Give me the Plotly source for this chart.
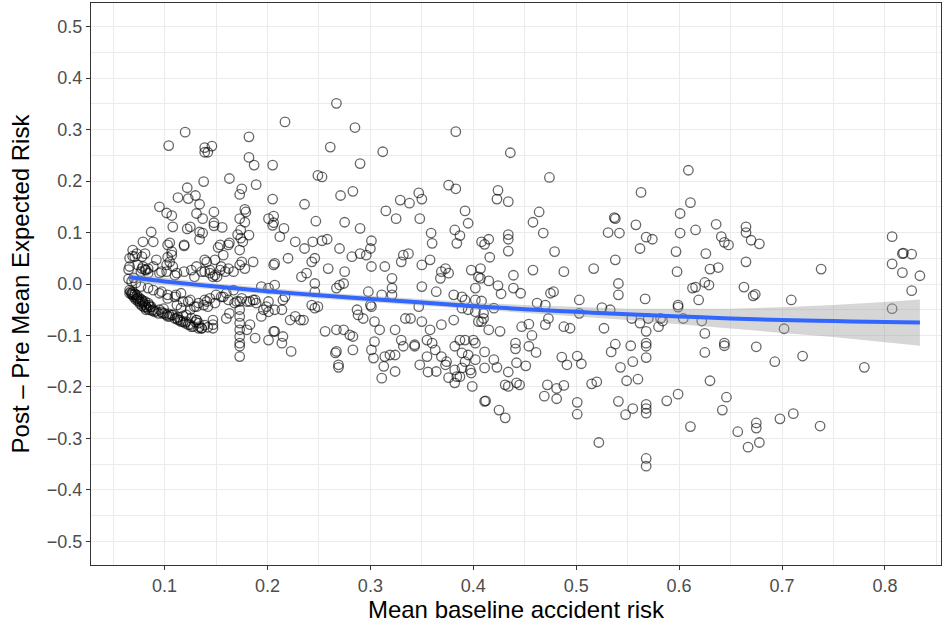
import plotly.graph_objects as go

# ---------------- data ----------------
# upper-left region
ul_x = [0.120,0.104,0.139,0.142,0.139,0.146,0.182,0.182,0.187,0.205,0.163,0.138,0.175,0.173,0.189,0.122,0.113,0.123,0.130,0.134,
        0.095,0.102,0.107,0.131,0.148,0.137,0.108,0.122,0.125,0.148,0.148,0.156,0.173,0.178,0.179,0.178,0.205,0.201,0.206,0.205,
        0.206,0.087,0.079,0.089,0.105,0.119,0.134,0.137,0.134,0.171,0.174,0.174,0.182,0.212,0.154,0.163]
ul_y = [0.295,0.269,0.265,0.256,0.256,0.268,0.286,0.246,0.231,0.231,0.205,0.199,0.185,0.174,0.193,0.187,0.168,0.166,0.172,0.155,
        0.150,0.138,0.133,0.137,0.140,0.127,0.111,0.107,0.111,0.119,0.113,0.110,0.127,0.145,0.140,0.120,0.165,0.127,0.132,0.114,
        0.119,0.101,0.082,0.082,0.080,0.076,0.087,0.099,0.101,0.096,0.105,0.089,0.095,0.092,0.076,0.080]

# left region, just above zero
la_x = [0.069,0.066,0.069,0.073,0.065,0.074,0.079,0.084,0.081,0.102,0.105,0.107,0.103,0.119,0.126,0.131,0.139,0.149,0.144,0.154,
        0.155,0.152,0.119,0.103,0.107,0.081,0.078,0.071,0.092,0.157,0.162,0.173,0.175,0.178,0.176,0.186,0.206,0.066,0.078,0.082,
        0.089,0.095,0.102,0.108,0.112,0.136,0.141,0.144,0.149,0.151,0.159,0.162,0.167,0.173,0.077,0.084,0.097,0.110,0.129,0.139,
        0.147,0.065,0.068,0.070,0.072]
la_y = [0.066,0.050,0.054,0.059,0.028,0.037,0.034,0.030,0.028,0.037,0.043,0.056,0.052,0.024,0.027,0.034,0.047,0.047,0.027,0.027,
        0.034,0.071,0.074,0.076,0.063,0.059,0.053,0.053,0.047,0.056,0.076,0.066,0.043,0.030,0.082,0.043,0.037,0.034,0.030,0.027,
        0.034,0.021,0.024,0.034,0.021,0.024,0.043,0.021,0.017,0.014,0.024,0.030,0.024,0.037,0.024,0.021,0.024,0.017,0.014,0.024,
        0.014,0.010,0.005,0.012,0.002]

# left region, below zero (upper part)
lb_x = [0.089,0.095,0.103,0.111,0.118,0.125,0.131,0.138,0.141,0.144,0.150,0.157,0.160,0.167,0.170,0.175,0.180,0.183,0.186,0.189,
        0.077,0.084,0.097,0.103,0.110,0.116,0.123,0.133,0.139,0.142,0.149,0.155,0.162,0.168]
lb_y = [-0.012,-0.018,-0.028,-0.021,-0.034,-0.031,-0.044,-0.041,-0.034,-0.028,-0.021,-0.025,-0.018,-0.012,-0.034,-0.028,-0.034,-0.034,-0.031,-0.037,
        -0.005,-0.008,-0.015,-0.021,-0.025,-0.018,-0.034,-0.037,-0.031,-0.044,-0.037,-0.025,-0.031,-0.037]

# dense lower band at low baseline risk
band_x = [0.066,0.069,0.073,0.076,0.079,0.082,0.085,0.089,0.092,0.095,0.098,0.102,0.105,0.108,0.112,0.115,0.118,0.121,0.125,0.128,
          0.131,0.133,0.134,0.136,
          0.068,0.071,0.074,0.078,0.081,0.084,0.082,0.087,0.090,0.094,0.097,0.100,0.103,0.107,0.110,0.113,0.116,0.120,0.123,0.126,
          0.131,0.133,0.136,0.121,0.125,0.129,0.116,0.112,
          0.066,0.067,0.068,0.069,0.070,0.071,0.072,0.073,0.074,0.075,0.076,0.077,0.078,0.079,0.080,0.081,0.083,0.085,0.086,0.088,
          0.139,0.142,0.126,0.118,0.130,0.113,0.104,0.099]
band_y = [-0.018,-0.021,-0.028,-0.034,-0.037,-0.044,-0.041,-0.050,-0.053,-0.050,-0.057,-0.060,-0.063,-0.060,-0.067,-0.070,-0.073,-0.073,-0.079,-0.083,
          -0.070,-0.076,-0.083,-0.086,
          -0.018,-0.021,-0.028,-0.031,-0.034,-0.037,-0.050,-0.044,-0.054,-0.057,-0.054,-0.057,-0.063,-0.060,-0.067,-0.070,-0.073,-0.076,-0.079,-0.083,
          -0.070,-0.086,-0.086,-0.060,-0.050,-0.044,-0.047,-0.041,
          -0.012,-0.015,-0.020,-0.016,-0.025,-0.019,-0.030,-0.022,-0.033,-0.026,-0.038,-0.030,-0.042,-0.034,-0.045,-0.040,-0.047,-0.050,-0.045,-0.052,
          -0.080,-0.084,-0.066,-0.062,-0.074,-0.064,-0.058,-0.048]

# left region, lower right part (x 0.14 - 0.21)
lr_x = [0.147,0.147,0.147,0.160,0.163,0.173,0.173,0.173,0.173,0.173,0.173,0.173,0.173,0.173,0.180,0.183,0.188,0.188,0.196,0.199,
        0.201,0.206,0.194,0.201,0.201,0.201,0.194]
lr_y = [-0.070,-0.079,-0.086,-0.067,-0.057,-0.034,-0.050,-0.063,-0.076,-0.089,-0.102,-0.115,-0.121,-0.141,-0.089,-0.079,-0.031,-0.105,-0.050,-0.044,
        -0.054,-0.092,-0.005,-0.008,-0.034,-0.109,-0.063]

# middle region, upper part
mu_x = [0.267,0.217,0.285,0.383,0.261,0.312,0.290,0.249,0.253,0.236,0.271,0.283,0.376,0.383,0.347,0.350,0.329,0.338,0.315,0.325,
        0.348,0.392,0.395,0.216,0.247,0.275,0.290,0.227,0.244,0.253,0.258,0.301,0.359,0.382,0.387,0.360,0.384,0.408,
        0.236,0.270,0.300,0.220,0.243,0.246,0.282,0.290,0.296,0.330,0.332,0.337,0.350,0.358,0.259,0.275,0.301,0.314,0.233,0.238,
        0.321,0.369,0.373,0.376,0.368,0.398,0.405,0.207]
mu_y = [0.351,0.315,0.304,0.296,0.266,0.257,0.234,0.211,0.208,0.155,0.172,0.180,0.192,0.185,0.177,0.165,0.163,0.157,0.142,0.127,
        0.127,0.142,0.118,0.108,0.122,0.120,0.108,0.082,0.082,0.084,0.087,0.084,0.099,0.105,0.094,0.079,0.079,0.082,
        0.069,0.069,0.069,0.050,0.043,0.050,0.053,0.059,0.056,0.043,0.056,0.059,0.037,0.047,0.030,0.024,0.034,0.034,0.014,0.021,
        0.011,0.024,0.030,0.021,0.011,0.027,0.014,0.040]

# middle region, lower part
ml_x = [0.207,0.217,0.215,0.246,0.246,0.267,0.270,0.274,0.298,0.311,0.321,0.321,0.350,0.364,0.381,0.389,0.392,0.402,0.402,0.207,
        0.214,0.222,0.227,0.232,0.235,0.243,0.249,0.246,0.287,0.288,0.293,0.300,0.301,0.304,0.334,0.339,0.347,0.350,0.358,0.369,
        0.381,0.389,0.395,0.402,0.405,0.207,0.215,0.214,0.223,0.256,0.267,0.274,0.280,0.283,0.266,0.267,0.283,0.269,0.301,0.304,
        0.303,0.309,0.314,0.319,0.324,0.324,0.330,0.332,0.343,0.343,0.355,0.360,0.363,0.355,0.369,0.374,0.382,0.387,0.392,0.389,
        0.395,0.400,0.402,0.392,0.402,
        0.269,0.311,0.324,0.313,0.348,0.356,0.364,0.373,0.376,0.382,0.384,0.387,0.382,0.389,0.397,0.398,0.399,0.411]
ml_y = [-0.002,-0.025,-0.031,0.001,-0.015,-0.008,-0.002,0.001,-0.015,-0.021,-0.008,-0.021,-0.005,-0.015,-0.021,-0.025,-0.031,-0.008,-0.031,-0.050,
        -0.050,-0.070,-0.063,-0.070,-0.070,-0.041,-0.044,-0.047,-0.050,-0.060,-0.067,-0.041,-0.044,-0.073,-0.067,-0.067,-0.044,-0.073,-0.089,-0.079,
        -0.070,-0.047,-0.050,-0.054,-0.073,-0.092,-0.102,-0.115,-0.131,-0.092,-0.089,-0.089,-0.099,-0.102,-0.134,-0.131,-0.128,-0.157,-0.128,-0.112,
        -0.144,-0.089,-0.141,-0.138,-0.138,-0.089,-0.109,-0.121,-0.121,-0.118,-0.109,-0.115,-0.128,-0.141,-0.141,-0.151,-0.121,-0.109,-0.109,-0.134,
        -0.138,-0.109,-0.115,-0.151,-0.147,
        -0.162,-0.183,-0.170,-0.160,-0.157,-0.171,-0.170,-0.157,-0.182,-0.192,-0.180,-0.180,-0.167,-0.163,-0.167,-0.173,-0.199,-0.228]

# right-middle region, upper part
ru_x = [0.436,0.474,0.609,0.424,0.423,0.434,0.563,0.611,0.464,0.458,0.468,0.601,0.537,0.538,0.558,0.531,0.542,0.616,0.601,0.568,
        0.574,0.562,0.597,0.415,0.411,0.434,0.434,0.434,0.416,0.479,0.538,0.407,0.458,0.488,0.517,0.598,
        0.439,0.407,0.415,0.424,0.427,0.439,0.446,0.475,0.478,0.541,0.541,0.613,0.408,0.462,0.470,0.503,0.503,0.525,0.533,0.567,
        0.599,0.599,0.619,0.420,0.410,0.408,0.410,0.473,0.554,0.562,0.570,0.582,0.580,0.584,0.604]
ru_y = [0.255,0.207,0.221,0.182,0.165,0.160,0.178,0.158,0.140,0.120,0.099,0.137,0.129,0.127,0.115,0.100,0.099,0.105,0.099,0.091,
        0.087,0.069,0.063,0.087,0.077,0.096,0.087,0.064,0.052,0.063,0.047,0.030,0.027,0.024,0.030,0.024,
        0.017,0.011,0.006,-0.003,-0.019,-0.008,-0.018,-0.018,-0.015,0.001,-0.021,-0.008,-0.033,-0.037,-0.041,-0.031,-0.057,-0.046,-0.050,-0.029,
        -0.041,-0.045,-0.031,-0.047,-0.057,-0.073,-0.067,-0.067,-0.067,-0.076,-0.067,-0.067,-0.083,-0.072,-0.067]

# right-middle region, lower part
rl_x = [0.415,0.426,0.447,0.454,0.470,0.488,0.494,0.527,0.568,0.441,0.441,0.457,0.454,0.461,0.411,0.420,0.411,0.423,0.434,0.442,
        0.451,0.486,0.491,0.501,0.505,0.538,0.534,0.553,0.555,0.568,0.568,0.568,0.543,0.549,0.560,0.431,0.434,0.442,0.445,0.472,
        0.481,0.488,0.469,0.481,0.515,0.520,0.412,0.425,0.431,0.501,0.501,0.541,0.548,0.555,0.568,0.568,0.568,0.588,0.599,0.611,
        0.522,0.568,0.568]
rl_y = [-0.089,-0.092,-0.083,-0.078,-0.079,-0.083,-0.086,-0.086,-0.092,-0.115,-0.126,-0.100,-0.121,-0.133,-0.132,-0.147,-0.163,-0.162,-0.171,-0.153,
        -0.159,-0.142,-0.157,-0.140,-0.155,-0.117,-0.132,-0.120,-0.151,-0.115,-0.121,-0.143,-0.162,-0.188,-0.185,-0.196,-0.199,-0.192,-0.196,-0.196,
        -0.203,-0.197,-0.218,-0.223,-0.194,-0.190,-0.227,-0.245,-0.260,-0.230,-0.253,-0.228,-0.254,-0.242,-0.234,-0.242,-0.251,-0.227,-0.214,-0.277,
        -0.308,-0.339,-0.354]

# far-right region
fr_x = [0.636,0.665,0.665,0.641,0.644,0.648,0.670,0.678,0.626,0.665,0.630,0.638,0.738,0.807,0.817,0.818,0.826,0.807,0.817,0.834,
        0.826,0.616,0.625,0.629,0.663,0.672,0.674,0.709,0.807,0.622,0.625,0.702,0.644,0.644,0.625,0.675,0.693,0.720,0.780,0.630,
        0.646,0.642,0.675,0.675,0.657,0.667,0.678,0.698,0.711,0.737]
fr_y = [0.116,0.111,0.100,0.092,0.081,0.076,0.085,0.078,0.059,0.043,0.029,0.032,0.029,0.092,0.059,0.060,0.058,0.039,0.022,0.016,
        -0.013,-0.006,0.003,-0.002,-0.006,-0.023,-0.020,-0.031,-0.048,-0.072,-0.096,-0.087,-0.115,-0.120,-0.133,-0.122,-0.151,-0.140,-0.162,-0.188,
        -0.220,-0.245,-0.270,-0.280,-0.287,-0.317,-0.308,-0.262,-0.252,-0.276]

# smoothed trend (loess) and its confidence half-width
smooth_x = [0.066, 0.1, 0.15, 0.2, 0.25, 0.3, 0.35, 0.4, 0.45, 0.5, 0.55, 0.6, 0.65, 0.7, 0.75, 0.8, 0.834]
smooth_y = [0.013, 0.005, -0.005, -0.014, -0.022, -0.029, -0.036, -0.043, -0.049, -0.054, -0.059, -0.063, -0.067, -0.070, -0.072, -0.074, -0.075]
smooth_hw = [0.009, 0.007, 0.006, 0.006, 0.006, 0.006, 0.006, 0.007, 0.008, 0.009, 0.011, 0.015, 0.019, 0.025, 0.031, 0.039, 0.045]

x_ticks = [0.1, 0.2, 0.3, 0.4, 0.5, 0.6, 0.7, 0.8]
y_ticks = [-0.5, -0.4, -0.3, -0.2, -0.1, 0.0, 0.1, 0.2, 0.3, 0.4, 0.5]

# ---------------- figure ----------------
xs = ul_x + la_x + lb_x + band_x + lr_x + mu_x + ml_x + ru_x + rl_x + fr_x
ys = ul_y + la_y + lb_y + band_y + lr_y + mu_y + ml_y + ru_y + rl_y + fr_y

FONT = "Liberation Sans, Arial, Helvetica, sans-serif"

fig = go.Figure()
fig.add_trace(go.Scatter(
    x=xs, y=ys, mode="markers",
    marker=dict(symbol="circle-open", size=9.5, color="rgba(0,0,0,0.6)", line=dict(width=1.3)),
    hoverinfo="skip", showlegend=False))

upper = [m + h for m, h in zip(smooth_y, smooth_hw)]
lower = [m - h for m, h in zip(smooth_y, smooth_hw)]
fig.add_trace(go.Scatter(
    x=smooth_x + smooth_x[::-1], y=upper + lower[::-1],
    mode="lines", line=dict(width=0), fill="toself",
    fillcolor="rgba(153,153,153,0.4)", hoverinfo="skip", showlegend=False))
fig.add_trace(go.Scatter(
    x=smooth_x, y=smooth_y, mode="lines",
    line=dict(color="#3366FF", width=4, shape="spline"),
    hoverinfo="skip", showlegend=False))

axis_common = dict(
    showgrid=True, gridcolor="#EBEBEB", gridwidth=1.3,
    zeroline=False, showline=True, linecolor="#333333", linewidth=1, mirror=True,
    ticks="outside", ticklen=4, tickcolor="#333333", tickwidth=1,
    tickfont=dict(family=FONT, size=18, color="#4D4D4D"),
)

fig.update_layout(
    width=949, height=627,
    margin=dict(l=91, r=8, t=3, b=62),
    paper_bgcolor="white", plot_bgcolor="white",
    font=dict(family=FONT),
    xaxis=dict(
        range=[0.0285, 0.8545], tickvals=x_ticks, tickformat=".1f",
        minor=dict(showgrid=True, gridcolor="#EBEBEB", gridwidth=0.6, dtick=0.05, tick0=0.05),
        title=dict(text="Mean baseline accident risk", font=dict(family=FONT, size=24, color="black"), standoff=4),
        **axis_common),
    yaxis=dict(
        range=[-0.546, 0.546], tickvals=y_ticks, tickformat=".1f",
        minor=dict(showgrid=True, gridcolor="#EBEBEB", gridwidth=0.6, dtick=0.05, tick0=0.05),
        title=dict(text="Post – Pre Mean Expected Risk", font=dict(family=FONT, size=24, color="black"), standoff=10),
        **axis_common),
)

fig.write_html("out.html")
